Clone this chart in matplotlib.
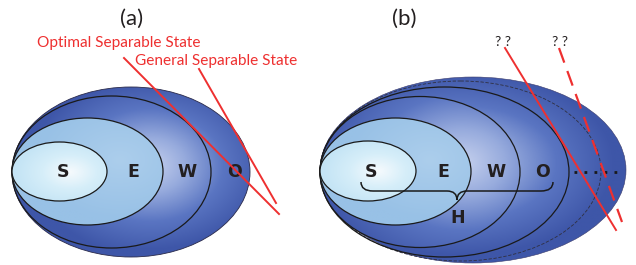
import numpy as np
import matplotlib
matplotlib.use("Agg")
import matplotlib.pyplot as plt
from matplotlib.patches import Ellipse, PathPatch
from matplotlib.path import Path
from matplotlib.colors import LinearSegmentedColormap

# ---- content ----
panel_titles = ["(a)", "(b)"]
region_labels = ["S", "E", "W", "O"]
hull_label = "H"
state_labels = ["Optimal Separable State", "General Separable State"]
unknown_label = "? ?"

# ellipse geometry (cx, cy, w, h) in pixel space
ell_a = {"O": (131, 172, 238, 170), "W": (111.5, 172, 199, 152),
         "E": (87.5, 171.5, 151, 107), "S": (59.5, 171.5, 95, 59)}
ell_b = {"outer": (473, 170, 306, 186), "dash": (460.5, 171, 281, 180),
         "O": (444.5, 172, 249, 170), "W": (420, 172, 200, 151),
         "E": (395.5, 171.5, 151, 107), "S": (368, 171, 96, 60)}
label_x_a = [63, 133, 187, 235]
label_x_b = [371, 443, 496, 543]

fig = plt.figure(figsize=(6.36, 2.65), dpi=100)
ax = fig.add_axes([0, 0, 1, 1])
ax.set_xlim(0, 636)
ax.set_ylim(265, 0)
ax.axis("off")

big_cmap = LinearSegmentedColormap.from_list(
    "big", [(0, "#c6d1ee"), (0.3, "#97abdd"), (0.62, "#5a75c2"), (1, "#3e56a8")])
e_cmap = LinearSegmentedColormap.from_list("e", ["#acceec", "#98c1e6"])
s_cmap = LinearSegmentedColormap.from_list("s", ["#f6fafd", "#d6eef9", "#c4e4f5"])


def grad_ellipse(geom, gc, scale, cmap, z, lw=0.9, ec="#1a1a1a", ls="-"):
    cx, cy, w, h = geom
    e = Ellipse((cx, cy), w, h, facecolor="none", edgecolor=ec, lw=lw, ls=ls, zorder=z + 0.5)
    clip = Ellipse((cx, cy), w, h, facecolor="none", edgecolor="none")
    ax.add_patch(clip)
    x0, x1 = cx - w / 2 - 2, cx + w / 2 + 2
    y0, y1 = cy - h / 2 - 2, cy + h / 2 + 2
    X, Y = np.meshgrid(np.linspace(x0, x1, 300), np.linspace(y0, y1, 240))
    gx, gy = gc
    t = np.sqrt(((X - gx) / (w / 2 * scale)) ** 2 + ((Y - gy) / (h / 2 * scale)) ** 2)
    t = np.clip(t, 0, 1)
    im = ax.imshow(t, extent=(x0, x1, y1, y0), cmap=cmap, vmin=0, vmax=1,
                   interpolation="bilinear", zorder=z, aspect="auto")
    im.set_clip_path(clip)
    if ec is not None:
        ax.add_patch(e)


# panel (a)
grad_ellipse(ell_a["O"], (150, 165), 1.0, big_cmap, 1, lw=0.6, ec="#2a2a4a")
grad_ellipse(ell_a["W"], (150, 165), 1.2, big_cmap, 2)
grad_ellipse(ell_a["E"], (120, 160), 1.1, e_cmap, 3)
grad_ellipse(ell_a["S"], (70, 172), 1.15, s_cmap, 4)

# panel (b)
grad_ellipse(ell_b["outer"], (462, 163), 1.0, big_cmap, 1, lw=0.4, ec="#3a3a6a")
cx, cy, w, h = ell_b["dash"]
ax.add_patch(Ellipse((cx, cy), w, h, facecolor="none", edgecolor="#303040",
                     lw=0.6, ls=(0, (4, 2)), zorder=1.6))
cx, cy, w, h = ell_b["O"]
ax.add_patch(Ellipse((cx, cy), w, h, facecolor="none", edgecolor="#1a1a1a", lw=0.9, zorder=1.7))
grad_ellipse(ell_b["W"], (462, 163), 1.45, big_cmap, 2)
grad_ellipse(ell_b["E"], (430, 160), 1.1, e_cmap, 3)
grad_ellipse(ell_b["S"], (378, 171), 1.15, s_cmap, 4)

lab_kw = dict(fontsize=12.5, fontweight="heavy", color="#231f20", ha="center",
              va="center", zorder=10, family="DejaVu Sans")
for lab, x in zip(region_labels, label_x_a):
    ax.text(x, 172, lab, **lab_kw)
for lab, x in zip(region_labels, label_x_b):
    ax.text(x, 172, lab, **lab_kw)
ax.text(458, 218, hull_label, **lab_kw)

# curly brace
bx0, bx1, by0, by1, bt = 361, 553, 182, 191, 200
mid = (bx0 + bx1) / 2
verts = [(bx0, by0), (bx0, by1), (bx0 + 12, by1), (mid - 10, by1), (mid, by1), (mid, bt),
         (mid, by1), (mid + 10, by1), (bx1 - 12, by1), (bx1, by1), (bx1, by0)]
codes = [Path.MOVETO, Path.CURVE3, Path.CURVE3, Path.LINETO, Path.CURVE3, Path.CURVE3,
         Path.CURVE3, Path.CURVE3, Path.LINETO, Path.CURVE3, Path.CURVE3]
ax.add_patch(PathPatch(Path(verts, codes), facecolor="none", edgecolor="#1a1a1a",
                       lw=1.1, zorder=9))

# dots
ax.plot([574, 621], [172, 172], ls=(0, (1, 2.6)), lw=2, color="#1a1a1a", zorder=9,
        solid_capstyle="butt")

# titles
for t, x in zip(panel_titles, [132, 404]):
    ax.text(x, 19, t, fontsize=16, color="#231f20", ha="center", va="center",
            family="Lato")

# red labels and lines
red = "#ee3030"
ax.text(37, 43, state_labels[0], fontsize=11.1, color=red, ha="left", va="center",
        family="Lato")
ax.text(135, 61, state_labels[1], fontsize=11.1, color=red, ha="left", va="center",
        family="Lato")
ax.plot([124, 279], [58, 214], color=red, lw=1.4, zorder=11)
ax.plot([199, 276], [69, 203], color=red, lw=1.4, zorder=11)

ax.text(503, 42, unknown_label, fontsize=10, color="#231f20", ha="center", va="center",
        family="Lato")
ax.text(560, 42, unknown_label, fontsize=10, color="#231f20", ha="center", va="center",
        family="Lato")
ax.plot([505, 616], [48, 230], color=red, lw=1.4, zorder=11)
ax.plot([559, 622], [48, 222], color=red, lw=1.6, ls=(0, (7, 4)), zorder=11)

fig.savefig("out.png", dpi=100)
